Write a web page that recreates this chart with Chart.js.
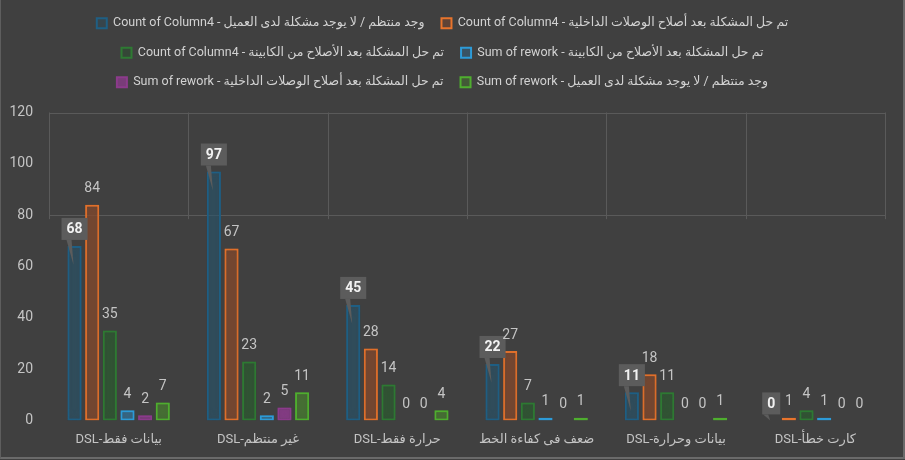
<!DOCTYPE html>
<html><head><meta charset="utf-8">
<script src="https://cdn.jsdelivr.net/npm/chart.js@4"></script>
<style>
html,body{margin:0;padding:0;background:#404040;overflow:hidden;}
#wrap{position:relative;width:905px;height:460px;}
#frame{position:absolute;left:0;top:0;width:902px;height:457px;border-left:1px solid #5e5e5e;border-right:2px solid #6a6a6a;border-bottom:2px solid #6a6a6a;pointer-events:none;}
</style></head><body>
<div id="wrap"><canvas id="c" width="905" height="460"></canvas><div id="frame"></div></div>
<script>
const categories = ['DSL-بيانات فقط','DSL-غير منتظم','DSL-حرارة فقط','ضعف فى كفاءة الخط','DSL-بيانات وحرارة','DSL-كارت خطأ'];
const seriesNames = [
  'Count of Column4 - وجد منتظم / لا يوجد مشكلة لدى العميل',
  'Count of Column4 - تم حل المشكلة بعد أصلاح الوصلات الداخلية',
  'Count of Column4 - تم حل المشكلة بعد الأصلاح من الكابينة',
  'Sum of rework - تم حل المشكلة بعد الأصلاح من الكابينة',
  'Sum of rework - تم حل المشكلة بعد أصلاح الوصلات الداخلية',
  'Sum of rework - وجد منتظم / لا يوجد مشكلة لدى العميل'
];
const countRegular   = [68, 97, 45, 22, 11, 0];
const countInternal  = [84, 67, 28, 27, 18, 1];
const countCabinet   = [35, 23, 14, 7, 11, 4];
const reworkCabinet  = [4, 2, 0, 1, 0, 1];
const reworkInternal = [2, 5, 0, 0, 0, 0];
const reworkRegular  = [7, 11, 4, 1, 1, 0];
const yTicks = [0, 20, 40, 60, 80, 100, 120];

const seriesValues = [countRegular, countInternal, countCabinet, reworkCabinet, reworkInternal, reworkRegular];
const borderCols = ['#1f5f84','#e8742c','#2e7a33','#2d9bd8','#8c3b8c','#4fae2f'];
const fillCols   = ['rgba(40,80,100,0.35)','rgba(120,70,45,0.55)','rgba(40,80,45,0.45)','rgba(45,120,170,0.35)','rgba(140,59,140,0.75)','rgba(70,120,45,0.45)'];
const glowCols   = ['rgba(31,95,132,0.9)','rgba(170,85,40,0.9)','rgba(46,122,51,0.9)','rgba(45,155,216,0.8)','rgba(140,59,140,0.9)','rgba(79,174,47,0.8)'];

const FONT = "Roboto, 'DejaVu Sans', sans-serif";

const legendSpacePlugin = {
  id: 'legendSpace',
  beforeUpdate(chart) {
    const lg = chart.legend;
    if (lg && !lg._patched) {
      const orig = lg.fit;
      lg.fit = function () { orig.call(this); this.height += 14; };
      lg._patched = true;
    }
  }
};

const glowPlugin = {
  id: 'glow',
  beforeDatasetDraw(chart, args) {
    const ctx = chart.ctx;
    ctx.save();
    ctx.shadowColor = glowCols[args.index];
    ctx.shadowBlur = 10;
  },
  afterDatasetDraw(chart) {
    chart.ctx.restore();
  }
};

const gridPlugin = {
  id: 'partialGrid',
  beforeDatasetsDraw(chart) {
    const ctx = chart.ctx;
    const x = chart.scales.x, y = chart.scales.y;
    const yTop = y.getPixelForValue(120), yMid = y.getPixelForValue(80);
    const half = (x.getPixelForValue(1) - x.getPixelForValue(0)) / 2;
    ctx.save();
    ctx.strokeStyle = '#5a5a5a';
    ctx.lineWidth = 1;
    ctx.beginPath();
    ctx.moveTo(x.left, Math.round(yTop) + 0.5);
    ctx.lineTo(x.right, Math.round(yTop) + 0.5);
    ctx.moveTo(x.left, Math.round(yMid) + 0.5);
    ctx.lineTo(x.right, Math.round(yMid) + 0.5);
    for (let i = 0; i <= categories.length; i++) {
      const px = Math.round(x.getPixelForValue(i) - half) + 0.5;
      ctx.moveTo(px, yTop);
      ctx.lineTo(px, yMid + 4);
    }
    ctx.stroke();
    ctx.restore();
  }
};

const labelPlugin = {
  id: 'valueLabels',
  afterDatasetsDraw(chart) {
    const ctx = chart.ctx;
    const base = chart.scales.y.getPixelForValue(0);
    ctx.save();
    chart.data.datasets.forEach((ds, di) => {
      const meta = chart.getDatasetMeta(di);
      meta.data.forEach((el, i) => {
        const v = ds.data[i];
        const txt = String(v);
        if (di === 0) {
          ctx.font = "bold 14px " + FONT;
          const w = ctx.measureText(txt).width + 10;
          const h = 22;
          const bottom = el.y - 6;
          const left = el.x - w / 2;
          ctx.fillStyle = '#5c5c5c';
          ctx.fillRect(left, bottom - h, w, h);
          ctx.beginPath();
          ctx.moveTo(el.x - 8, bottom);
          ctx.lineTo(el.x - 3, bottom);
          ctx.lineTo(el.x - 1, Math.min(bottom + 25, base));
          ctx.closePath();
          ctx.fill();
          ctx.fillStyle = '#f2f2f2';
          ctx.textAlign = 'center';
          ctx.textBaseline = 'middle';
          ctx.fillText(txt, el.x, bottom - h / 2 + 1);
        } else {
          ctx.font = "14px " + FONT;
          ctx.fillStyle = '#c4c4c4';
          ctx.textAlign = 'center';
          ctx.textBaseline = 'middle';
          ctx.fillText(txt, el.x, el.y - 16);
        }
      });
    });
    ctx.restore();
  }
};

const datasets = seriesValues.map((vals, i) => ({
  label: seriesNames[i],
  data: vals,
  backgroundColor: fillCols[i],
  borderColor: borderCols[i],
  borderWidth: 2,
  borderSkipped: false,
  categoryPercentage: 0.76,
  barPercentage: 0.8
}));

new Chart(document.getElementById('c'), {
  type: 'bar',
  data: { labels: categories, datasets },
  options: {
    responsive: false,
    animation: false,
    layout: { padding: { left: 0, right: 20, top: 0, bottom: 0 } },
    plugins: {
      tooltip: { enabled: false },
      legend: {
        position: 'top',
        labels: {
          color: '#d2d2d2',
          font: { family: FONT, size: 12.5 },
          boxWidth: 10,
          boxHeight: 10,
          padding: 17
        }
      }
    },
    scales: {
      x: {
        grid: { display: false, drawTicks: false },
        border: { display: false },
        ticks: { color: '#c4c4c4', font: { family: FONT, size: 13 }, padding: 12, maxRotation: 0, autoSkip: false }
      },
      y: {
        min: 0, max: 120,
        afterFit(scale) { scale.width = 49; },
        afterBuildTicks(scale) { scale.ticks = yTicks.map(v => ({ value: v })); },
        grid: { display: false, drawTicks: false },
        border: { display: false },
        ticks: { color: '#c4c4c4', font: { family: FONT, size: 14 }, padding: 16 }
      }
    }
  },
  plugins: [legendSpacePlugin, gridPlugin, glowPlugin, labelPlugin]
});
</script>
</body></html>
